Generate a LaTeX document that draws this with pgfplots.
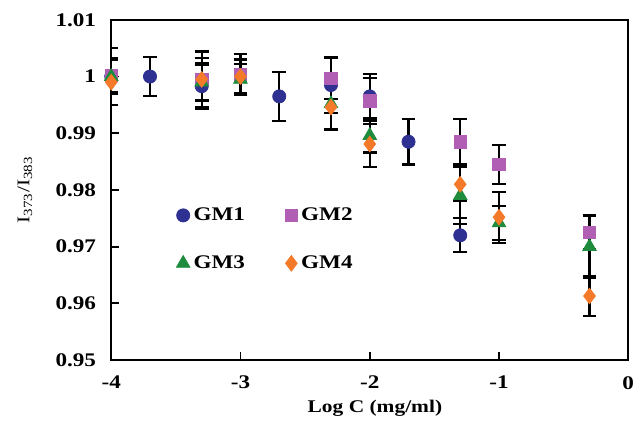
\documentclass[border=0pt]{standalone}
\usepackage{fontspec}
\setmainfont{Liberation Serif}[FakeStretch=1.2]
\usepackage{pgfplots}
\pgfplotsset{compat=1.18}

\definecolor{gmnavy}{HTML}{2E3192}
\definecolor{gmpurple}{HTML}{B05FB5}
\definecolor{gmgreen}{HTML}{1E8C3C}
\definecolor{gmorange}{HTML}{F47A2A}

\begin{document}
\begin{tikzpicture}
\begin{axis}[
    width=10.18cm, height=6.70cm,
    scale only axis,
    xmin=-4, xmax=0,
    ymin=0.95, ymax=1.01,
    xtick={-4,-3,-2,-1,0},
    ytick={0.95,0.96,0.97,0.98,0.99,1,1.01},
    tick align=inside,
    major tick length=0.15cm,
    xtick pos=bottom, ytick pos=left,
    axis line style={line width=1pt},
    every tick/.style={black, line width=1pt},
    /pgf/number format/assume math mode=true,
    tick label style={font=\fontsize{10.8}{12}\selectfont\bfseries},
    xticklabel style={yshift=-5.5pt},
    yticklabel style={xshift=-5pt, /pgf/number format/fixed, /pgf/number format/precision=2},
    xlabel={\textbf{Log C (mg/ml)}},
    ylabel={I\textsubscript{373}/I\textsubscript{383}},
    label style={font=\fontsize{10.8}{12}\selectfont},
    every axis x label/.style={at={(axis description cs:0.51,-0.142)}, anchor=center},
    every axis y label/.style={at={(axis description cs:-0.167,0.5)}, rotate=90, anchor=center},
    legend columns=2,
    legend style={draw=none, fill=none, at={(0.115,0.47)}, anchor=north west,
        font=\fontsize{10.8}{12}\selectfont\bfseries,
        /tikz/every even column/.append style={column sep=0.72cm},
        row sep=0.5cm},
    error bars/y dir=both,
    error bars/y explicit,
    error bars/error bar style={black, line width=1.2pt},
    error bars/error mark options={black, rotate=90, mark size=3.9pt, line width=1.2pt},
]
\addplot[only marks, mark=*, mark size=3.7pt, color=gmnavy, mark options={fill=gmnavy, draw=gmnavy}]
coordinates {
(-4,1.0) +- (0,0.005)
(-3.7,1.0) +- (0,0.0035)
(-3.3,0.9983) +- (0,0.004)
(-2.7,0.9965) +- (0,0.0043)
(-2.3,0.9985) +- (0,0.005)
(-2,0.9965) +- (0,0.004)
(-1.7,0.9885) +- (0,0.004)
(-1.3,0.972) +- (0,0.003)
};
\addlegendentry{GM1}
\addplot[only marks, mark=square*, mark size=3.5pt, color=gmpurple, mark options={fill=gmpurple, draw=gmpurple}]
coordinates {
(-4,1.0002) +- (0,0.003)
(-3.3,0.9995) +- (0,0.0049)
(-3,1.0003) +- (0,0.0036)
(-2.3,0.9997) +- (0,0.0036)
(-2,0.9957) +- (0,0.004)
(-1.3,0.9885) +- (0,0.004)
(-1,0.9845) +- (0,0.0035)
(-0.3,0.9725) +- (0,0.003)
};
\addlegendentry{GM2}
\addplot[only marks, mark=triangle*, mark size=4.4pt, color=gmgreen, mark options={fill=gmgreen, draw=gmgreen}]
coordinates {
(-4,1.0) +- (0,0.003)
(-3.3,0.999) +- (0,0.0031)
(-3,0.9995) +- (0,0.0027)
(-2.3,0.9952) +- (0,0.0045)
(-2,0.9896) +- (0,0.003)
(-1.3,0.979) +- (0,0.005)
(-1,0.9742) +- (0,0.003)
(-0.3,0.970) +- (0,0.0055)
};
\addlegendentry{GM3}
\addplot[only marks, mark=diamond*, mark size=4.4pt, color=gmorange, mark options={fill=gmorange, draw=gmorange}]
coordinates {
(-4,0.999) +- (0,0.004)
(-3.3,0.9995) +- (0,0.0038)
(-3,1.0) +- (0,0.003)
(-2.3,0.9946) +- (0,0.004)
(-2,0.9881) +- (0,0.004)
(-1.3,0.981) +- (0,0.003)
(-1,0.9752) +- (0,0.0045)
(-0.3,0.9613) +- (0,0.0035)
};
\addlegendentry{GM4}
\end{axis}
\path (current axis.south west) ++(-2.19cm,-1.19cm) coordinate (bbsw);
\path (current axis.north east) ++(0.14cm,0.39cm) coordinate (bbne);
\path (bbsw) rectangle (bbne);
\end{tikzpicture}
\end{document}
